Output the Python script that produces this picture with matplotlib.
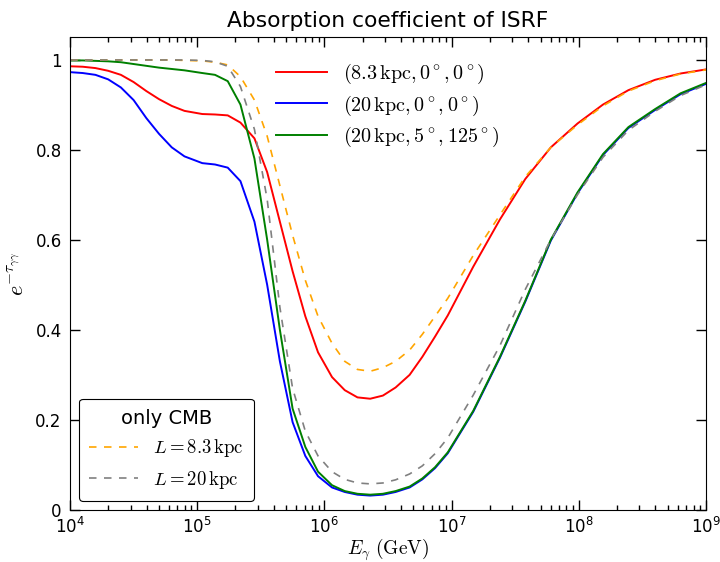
import matplotlib
matplotlib.use("Agg")
import matplotlib.pyplot as plt
import numpy as np

plt.rcParams['mathtext.fontset'] = 'cm'
plt.rcParams['font.family'] = 'DejaVu Sans'

# log10 of photon energy (GeV)
logE = [4.0, 4.1, 4.2, 4.3, 4.4, 4.5, 4.6, 4.7, 4.8, 4.9,
        5.04, 5.14, 5.24, 5.34, 5.45, 5.55, 5.65, 5.75, 5.85, 5.95,
        6.06, 6.16, 6.26, 6.36, 6.46, 6.56, 6.67, 6.77, 6.87, 6.97,
        7.17, 7.38, 7.58, 7.78, 7.99, 8.19, 8.39, 8.6, 8.8, 9.0]

isrf_8kpc = [0.985, 0.984, 0.981, 0.975, 0.966, 0.950, 0.930, 0.912, 0.897, 0.886,
             0.879, 0.878, 0.876, 0.860, 0.825, 0.750, 0.640, 0.530, 0.430, 0.350,
             0.295, 0.266, 0.250, 0.247, 0.254, 0.272, 0.300, 0.340, 0.385, 0.432,
             0.540, 0.645, 0.735, 0.805, 0.858, 0.900, 0.932, 0.955, 0.969, 0.978]
isrf_20kpc = [0.972, 0.970, 0.966, 0.956, 0.938, 0.910, 0.870, 0.835, 0.805, 0.785,
              0.770, 0.767, 0.760, 0.730, 0.640, 0.500, 0.330, 0.195, 0.120, 0.075,
              0.050, 0.040, 0.034, 0.032, 0.034, 0.040, 0.050, 0.068, 0.093, 0.126,
              0.218, 0.338, 0.463, 0.598, 0.703, 0.788, 0.848, 0.888, 0.923, 0.946]
isrf_20kpc_off = [0.998, 0.998, 0.997, 0.996, 0.994, 0.990, 0.986, 0.982, 0.979, 0.976,
                  0.970, 0.966, 0.952, 0.900, 0.780, 0.600, 0.400, 0.225, 0.140, 0.085,
                  0.055, 0.042, 0.036, 0.034, 0.036, 0.042, 0.052, 0.070, 0.095, 0.128,
                  0.220, 0.340, 0.465, 0.600, 0.705, 0.790, 0.850, 0.890, 0.925, 0.948]
cmb_8kpc = [0.999, 0.999, 0.999, 0.999, 0.999, 0.999, 0.999, 0.999, 0.999, 0.998,
            0.997, 0.994, 0.988, 0.962, 0.910, 0.830, 0.720, 0.610, 0.510, 0.430,
            0.370, 0.330, 0.312, 0.308, 0.316, 0.330, 0.355, 0.390, 0.430, 0.470,
            0.565, 0.655, 0.740, 0.805, 0.855, 0.897, 0.930, 0.953, 0.968, 0.977]
cmb_20kpc = [0.999, 0.999, 0.999, 0.999, 0.999, 0.999, 0.999, 0.999, 0.999, 0.999,
             0.998, 0.995, 0.985, 0.940, 0.845, 0.690, 0.450, 0.270, 0.175, 0.120,
             0.085, 0.068, 0.060, 0.058, 0.060, 0.067, 0.080, 0.098, 0.125, 0.160,
             0.255, 0.365, 0.490, 0.600, 0.700, 0.783, 0.843, 0.885, 0.920, 0.944]

isrf_labels = [r'$(8.3\,\mathrm{kpc},0^\circ,0^\circ)$',
               r'$(20\,\mathrm{kpc},0^\circ,0^\circ)$',
               r'$(20\,\mathrm{kpc},5^\circ,125^\circ)$']
cmb_labels = [r'$L=8.3\,\mathrm{kpc}$', r'$L=20\,\mathrm{kpc}$']

E = 10**np.array(logE)

fig = plt.figure(figsize=(7.2, 5.62), dpi=100)
ax = fig.add_axes([70/720, 1-510/562, 636/720, 473/562])

l1, = ax.plot(E, isrf_8kpc, '-', color='r', lw=1.4, label=isrf_labels[0])
l2, = ax.plot(E, isrf_20kpc, '-', color='b', lw=1.4, label=isrf_labels[1])
l3, = ax.plot(E, isrf_20kpc_off, '-', color='g', lw=1.4, label=isrf_labels[2])
d1, = ax.plot(E, cmb_8kpc, '--', color='orange', lw=1.2, dashes=(4.5, 4.5), label=cmb_labels[0])
d2, = ax.plot(E, cmb_20kpc, '--', color='gray', lw=1.2, dashes=(4.5, 4.5), label=cmb_labels[1])

ax.set_xscale('log')
ax.set_xlim(1e4, 1e9)
ax.set_ylim(0, 1.05)
ax.set_yticks([0, 0.2, 0.4, 0.6, 0.8, 1.0])
ax.set_yticklabels(['0', '0.2', '0.4', '0.6', '0.8', '1'])
ax.tick_params(which='both', direction='in', top=True, right=True, labelsize=12)
ax.tick_params(which='major', length=7, width=1)
ax.tick_params(which='minor', length=3.5, width=1)
ax.tick_params(axis='x', which='major', pad=5)
ax.tick_params(axis='y', which='major', pad=6)
ax.yaxis.set_minor_locator(plt.NullLocator())

ax.set_title('Absorption coefficient of ISRF', fontsize=15.7, pad=7)
ax.set_xlabel(r'$E_\gamma\ (\mathrm{GeV})$', fontsize=14, labelpad=0)
ax.set_ylabel(r'$e^{-\tau_{\gamma\gamma}}$', fontsize=16, labelpad=5)

leg1 = ax.legend(handles=[l1, l2, l3], loc='upper left', bbox_to_anchor=(0.296, 0.985),
                 frameon=False, fontsize=14.5, handlelength=2.5, labelspacing=0.35)
ax.add_artist(leg1)
leg2 = ax.legend(handles=[d1, d2], loc='lower left', bbox_to_anchor=(9/636, 9/473),
                 borderaxespad=0, title='only CMB', title_fontsize=14, fontsize=13.5,
                 handlelength=2.6, fancybox=True, edgecolor='black', framealpha=1,
                 borderpad=0.55)
leg2.get_frame().set_linewidth(0.8)

fig.savefig('out.png', dpi=100)
